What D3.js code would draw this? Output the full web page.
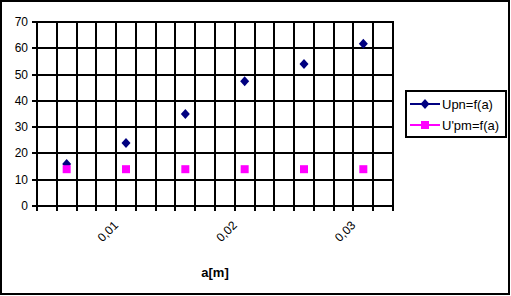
<!DOCTYPE html>
<html><head><meta charset="utf-8">
<script src="https://cdn.jsdelivr.net/npm/d3@7"></script>
<style>body{margin:0;background:#fff}svg{display:block}text{font-family:"Liberation Sans",Arial,sans-serif;fill:#000}</style>
</head><body>
<script>
const aValues = [0.005, 0.010, 0.015, 0.020, 0.025, 0.030];
const upn = [16, 24, 35, 47.5, 54, 61.7];
const upm = [14, 14, 14, 14, 14, 14];
const seriesNames = ["Upn=f(a)", "U'pm=f(a)"];
const xTickLabels = ["0,01", "0,02", "0,03"];
const xTickValues = [0.01, 0.02, 0.03];
const yTicks = [0, 10, 20, 30, 40, 50, 60, 70];
const xTitle = "a[m]";

const W = 511, H = 296;
const L = 37, R = 393, T = 22, B = 206;
const svg = d3.select("body").append("svg").attr("width", W).attr("height", H);
svg.append("rect").attr("x", 1).attr("y", 1).attr("width", 508).attr("height", 293)
  .attr("fill", "#fff").attr("stroke", "#000").attr("stroke-width", 2);

const x = d3.scaleLinear().domain([0.0025, 0.0325]).range([L, R]);
const y = d3.scaleLinear().domain([0, 70]).range([B, T]);
const step = 0.005 / 3;
const xGrid = d3.range(19).map(i => 0.0025 + i * step);

const g = svg.append("g");
g.selectAll("line.vx").data(xGrid).join("line")
  .attr("x1", d => Math.round(x(d))).attr("x2", d => Math.round(x(d)))
  .attr("y1", T).attr("y2", B + 5)
  .attr("stroke", "#000").attr("stroke-width", 2);
g.selectAll("line.hy").data(yTicks).join("line")
  .attr("x1", L - 5).attr("x2", R + 1)
  .attr("y1", d => Math.round(y(d))).attr("y2", d => Math.round(y(d)))
  .attr("stroke", "#000").attr("stroke-width", 2);

g.selectAll("text.yl").data(yTicks).join("text")
  .attr("x", 28).attr("y", d => Math.round(y(d)) + 4)
  .attr("text-anchor", "end").attr("font-size", 12).text(d => d);

g.selectAll("text.xl").data(xTickValues).join("text")
  .attr("text-anchor", "end").attr("font-size", 12)
  .attr("transform", d => `translate(${x(d) - 7},${B + 20}) rotate(-45)`)
  .text((d, i) => xTickLabels[i]);

svg.append("text").attr("x", (L + R) / 2).attr("y", 277).attr("text-anchor", "middle")
  .attr("font-size", 13).attr("font-weight", "bold").text(xTitle);

const diamond = "M0,-5L4.5,0L0,5L-4.5,0Z";
const sq = 8;
g.selectAll("path.up").data(aValues).join("path")
  .attr("d", diamond).attr("fill", "#000080")
  .attr("transform", (d, i) => `translate(${x(d)},${y(upn[i])})`);
g.selectAll("rect.um").data(aValues).join("rect")
  .attr("x", d => x(d) - sq / 2).attr("y", (d, i) => y(upm[i]) - sq / 2)
  .attr("width", sq).attr("height", sq).attr("fill", "#ff00ff");

const lg = svg.append("g");
lg.append("rect").attr("x", 406).attr("y", 91).attr("width", 100).attr("height", 46)
  .attr("fill", "#fff").attr("stroke", "#000").attr("stroke-width", 2);
const colors = ["#000080", "#ff00ff"];
seriesNames.forEach((name, i) => {
  const ly = 104 + i * 21;
  lg.append("line").attr("x1", 410).attr("x2", 440).attr("y1", ly).attr("y2", ly)
    .attr("stroke", colors[i]).attr("stroke-width", 2);
  if (i === 0) lg.append("path").attr("d", diamond).attr("fill", colors[i])
    .attr("transform", `translate(425,${ly})`);
  else lg.append("rect").attr("x", 425 - sq / 2).attr("y", ly - sq / 2)
    .attr("width", sq).attr("height", sq).attr("fill", colors[i]);
  lg.append("text").attr("x", 442).attr("y", ly + 4.5).attr("font-size", 13).text(name);
});
</script>
</body></html>
